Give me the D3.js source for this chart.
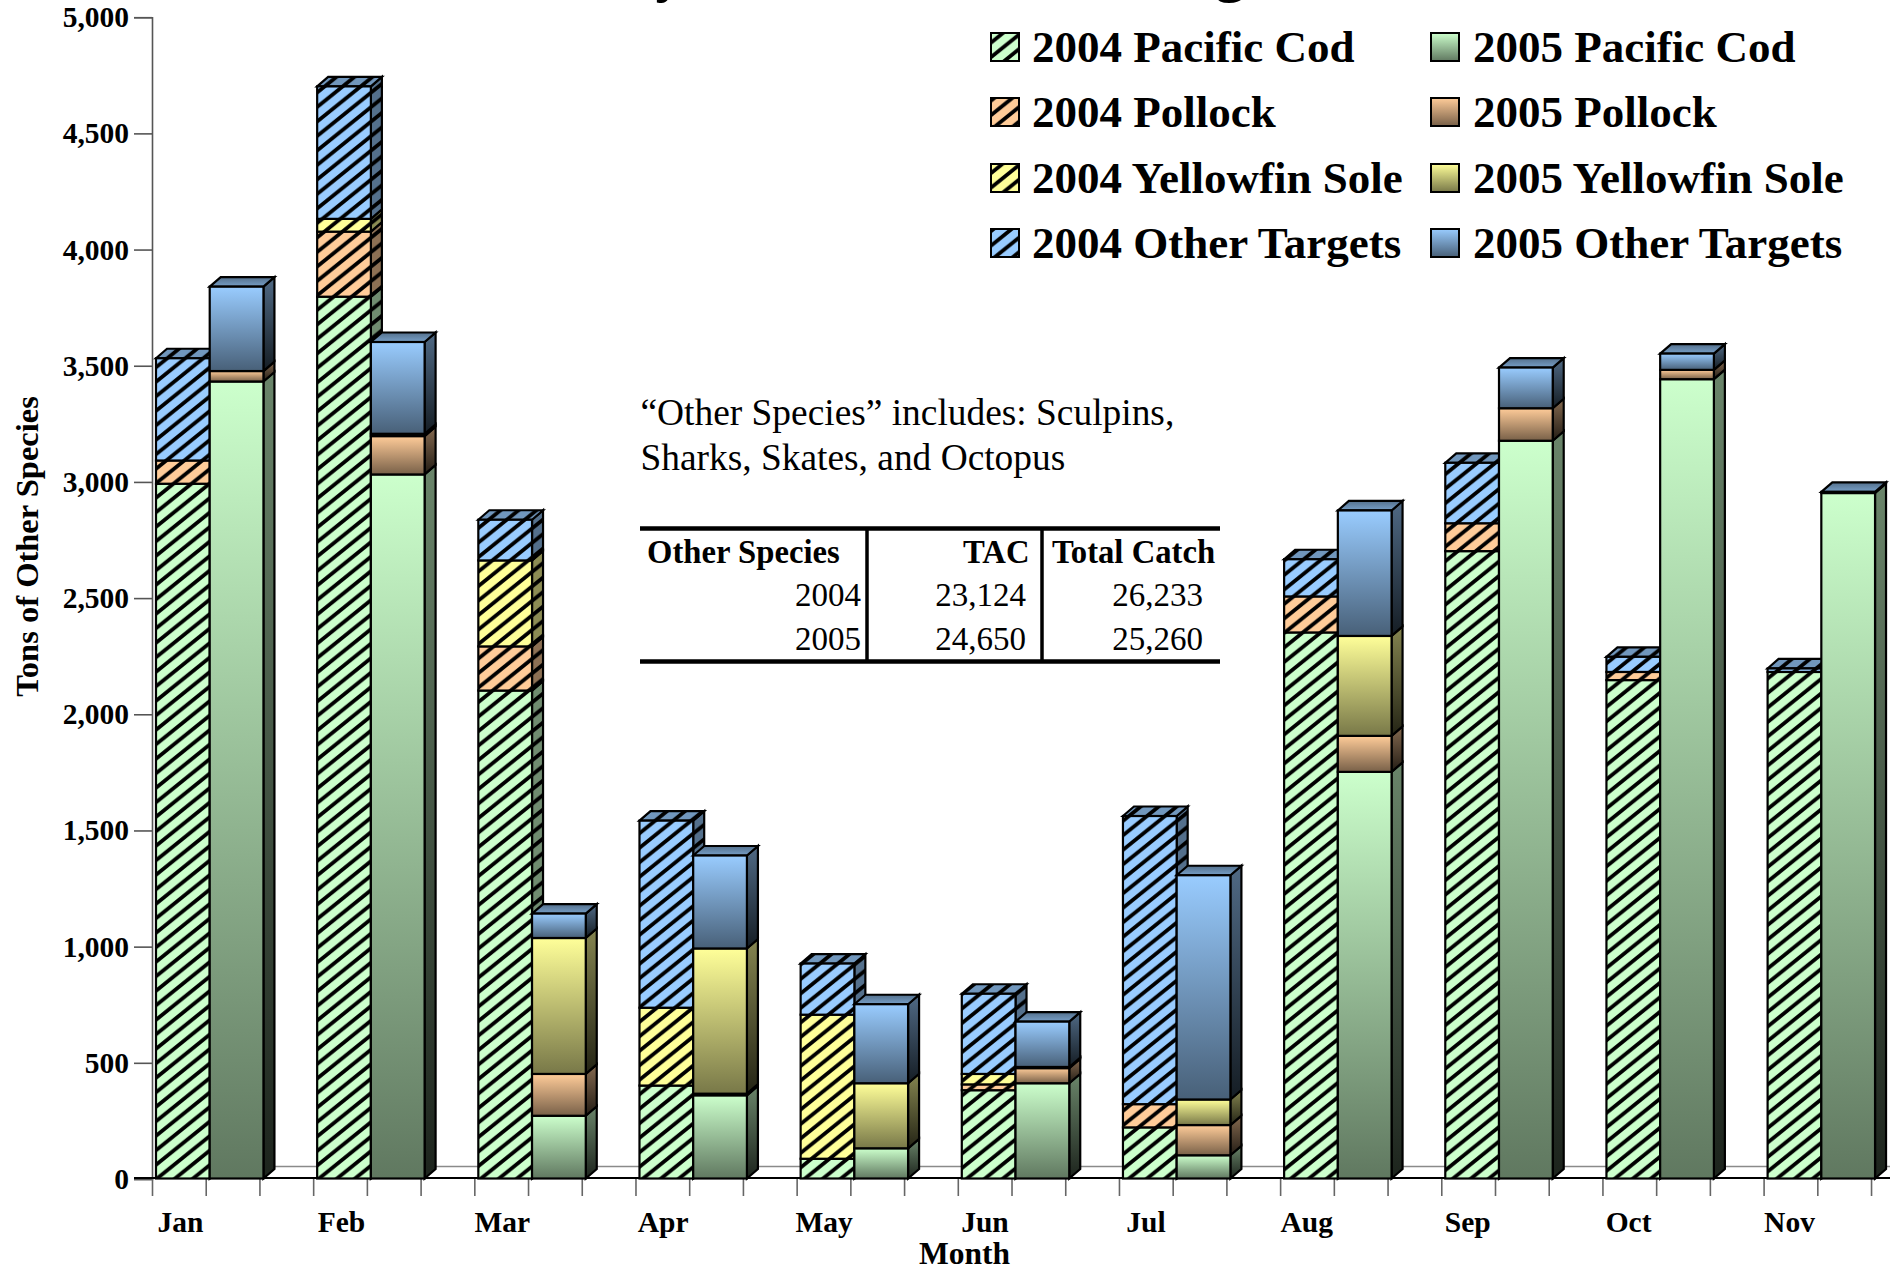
<!DOCTYPE html>
<html><head><meta charset="utf-8">
<script src="https://d3js.org/d3.v7.min.js"></script>
<style>html,body{margin:0;padding:0;background:#fff;overflow:hidden}svg{display:block}
text{font-family:"Liberation Serif","Times New Roman",serif;fill:#000}</style>
</head><body><svg id="c" width="1890" height="1273"></svg>
<script>
const months=["Jan","Feb","Mar","Apr","May","Jun","Jul","Aug","Sep","Oct","Nov"];
const species=["Pacific Cod","Pollock","Yellowfin Sole","Other Targets"];
const cod2004=[2990,3795,2100,400,85,380,220,2350,2700,2145,2180];
const pollock2004=[100,280,190,0,0,25,100,155,120,35,0];
const yellowfin2004=[0,55,370,335,620,45,0,0,0,0,0];
const other2004=[440,570,175,805,220,345,1240,160,260,65,15];
const cod2005=[3430,3030,270,358,130,410,100,1750,3175,3440,2950];
const pollock2005=[45,165,180,7,0,65,130,155,140,40,0];
const yellowfin2005=[0,10,585,625,280,5,110,430,0,0,0];
const other2005=[363,395,105,400,340,195,965,540,175,70,5];
const yTicks=[0,500,1000,1500,2000,2500,3000,3500,4000,4500,5000];
const baseColors=["#CCFFCC","#FFCC99","#FFFF99","#99CCFF"];
const noteLines=["\u201COther Species\u201D includes: Sculpins,","Sharks, Skates, and Octopus"];
const tableHead=["Other Species","TAC","Total Catch"];
const tableYears=["2004","2005"];
const tableTAC=["23,124","24,650"];
const tableCatch=["26,233","25,260"];

const svg=d3.select("#c"), defs=svg.append("defs");
const y=d3.scaleLinear().domain([0,5000]).range([1179,17.2]);
const x=d3.scaleLinear().domain([0,33]).range([152,152+33*53.72]);
const labelX=d3.scaleLinear().domain([0,10]).range([180.5,1789.5]);
const DX=11, DY=9.5, INSET=4, LIFT=0.5;
const shade=(c,k)=>{const r=d3.rgb(c);return d3.rgb(r.r*k,r.g*k,r.b*k).formatHex();};

function hatch(id,color){
  const p=defs.append("pattern").attr("id",id).attr("patternUnits","userSpaceOnUse")
    .attr("width",18).attr("height",14.5);
  p.append("rect").attr("width",18).attr("height",14.5).attr("fill",color);
  p.append("path").attr("d","M-9,7.25L9,-7.25M-9,21.75L27,-7.25M9,21.75L27,7.25")
    .attr("stroke","#000").attr("stroke-width",3.8);
}
function grad(id,c0,c1){
  const g=defs.append("linearGradient").attr("id",id).attr("x1",0).attr("y1",0).attr("x2",0).attr("y2",1);
  g.append("stop").attr("offset","0").attr("stop-color",c0);
  g.append("stop").attr("offset","1").attr("stop-color",c1);
}
baseColors.forEach((c,i)=>{
  hatch("hf"+i,c); hatch("hs"+i,shade(c,.55)); hatch("ht"+i,shade(c,.74));
  grad("gf"+i,c,shade(c,.47)); grad("gs"+i,shade(c,.52),shade(c,.14)); grad("gt"+i,shade(c,.55),shade(c,.78));
});

// floor line
svg.append("line").attr("x1",x(0)+DX).attr("x2",1890).attr("y1",y(0)-DY-3).attr("y2",y(0)-DY-3)
  .attr("stroke","#8a8a8a").attr("stroke-width",1.6);

// axes
const gy=svg.append("g").attr("transform",`translate(${x(0)},0)`)
  .call(d3.axisLeft(y).tickValues(yTicks).tickFormat(d3.format(",")).tickSize(18).tickPadding(5));
gy.selectAll("path,line").attr("stroke","#555").attr("stroke-width",1.6);
gy.selectAll("text").attr("font-size",29.5).attr("font-weight","bold").attr("font-family","Liberation Serif").attr("fill","#000");
const gx=svg.append("g").attr("transform",`translate(0,${y(0)-1})`)
  .call(d3.axisBottom(x).tickValues(d3.range(0,34)).tickFormat("").tickSize(18).tickSizeOuter(0));
gx.selectAll("line").attr("stroke","#666").attr("stroke-width",1.6);
gx.select("path").remove();
svg.append("line").attr("x1",134).attr("x2",1890).attr("y1",y(0)-1).attr("y2",y(0)-1).attr("stroke","#000").attr("stroke-width",2);

// bars
const table=months.map((m,i)=>({
  a0:cod2004[i],a1:pollock2004[i],a2:yellowfin2004[i],a3:other2004[i],
  b0:cod2005[i],b1:pollock2005[i],b2:yellowfin2005[i],b3:other2005[i]}));
const stackA=d3.stack().keys(["a0","a1","a2","a3"])(table);
const stackB=d3.stack().keys(["b0","b1","b2","b3"])(table);
const bars=svg.append("g").attr("stroke","#000").attr("stroke-width",2.2).attr("stroke-linejoin","miter");
months.forEach((m,mi)=>{
  [[stackA,"h"],[stackB,"g"]].forEach(([stack,kind],yi)=>{
    const x0=x(mi*3+yi)+INSET, x1=x0+(x(1)-x(0));
    const segs=stack.map((s,si)=>({si,lo:s[mi][0],hi:s[mi][1]})).filter(d=>d.hi>d.lo);
    const top=segs[segs.length-1];
    const g=bars.append("g");
    segs.forEach(d=>{
      const yl=y(d.lo)-LIFT, yh=y(d.hi)-LIFT;
      g.append("polygon").attr("points",[[x1,yl],[x1+DX,yl-DY],[x1+DX,yh-DY],[x1,yh]].join(" "))
        .attr("fill",`url(#${kind}s${d.si})`);
    });
    const ty=y(top.hi)-LIFT;
    g.append("polygon").attr("points",[[x0,ty],[x0+DX,ty-DY],[x1+DX,ty-DY],[x1,ty]].join(" "))
      .attr("fill",`url(#${kind==="h"?"ht":"gt"}${top.si})`);
    segs.forEach(d=>{
      g.append("rect").attr("x",x0).attr("y",y(d.hi)-LIFT).attr("width",x1-x0).attr("height",y(d.lo)-y(d.hi))
        .attr("fill",`url(#${kind==="h"?"hf":"gf"}${d.si})`);
    });
  });
});

// month labels and axis titles
svg.append("g").selectAll("text").data(months).join("text")
  .attr("x",(d,i)=>labelX(i)).attr("y",1232).attr("text-anchor","middle")
  .attr("font-size",29.5).attr("font-weight","bold").text(d=>d);
svg.append("text").attr("x",964.5).attr("y",1264).attr("text-anchor","middle")
  .attr("font-size",31.5).attr("font-weight","bold").text("Month");
svg.append("text").attr("transform","translate(38,546.5) rotate(-90)").attr("text-anchor","middle")
  .attr("font-size",32.5).attr("font-weight","bold").text("Tons of Other Species");

// title fragments cut by the top edge
svg.append("text").attr("x",670).attr("y",-9).attr("text-anchor","middle").attr("font-size",58).attr("font-weight","bold").text("y");
svg.append("text").attr("x",1230).attr("y",-9).attr("text-anchor","middle").attr("font-size",58).attr("font-weight","bold").text("g");

// legend
const legend=svg.append("g");
const rows=[62,127,193,258];
[["2004","h",991,1032],["2005","g",1431,1473]].forEach(([yr,kind,sx,tx])=>{
  species.forEach((s,i)=>{
    legend.append("rect").attr("x",sx).attr("y",rows[i]-29).attr("width",28).attr("height",28)
      .attr("fill",`url(#${kind==="h"?"hf":"gf"}${i})`).attr("stroke","#000").attr("stroke-width",2);
    legend.append("text").attr("x",tx).attr("y",rows[i]).attr("font-size",45).attr("font-weight","bold").text(yr+" "+s);
  });
});

// note and table
svg.append("g").selectAll("text").data(noteLines).join("text")
  .attr("x",640.5).attr("y",(d,i)=>425+45*i).attr("font-size",37.4).text(d=>d);
const tbl=svg.append("g");
[528.5,661.5].forEach(v=>tbl.append("line").attr("x1",640).attr("x2",1220).attr("y1",v).attr("y2",v).attr("stroke","#000").attr("stroke-width",4.5));
[867,1042].forEach(v=>tbl.append("line").attr("x1",v).attr("x2",v).attr("y1",528).attr("y2",661.5).attr("stroke","#000").attr("stroke-width",3.5));
tbl.append("text").attr("x",647).attr("y",563).attr("font-size",32.7).attr("font-weight","bold").text(tableHead[0]);
tbl.append("text").attr("x",1029.5).attr("y",563).attr("text-anchor","end").attr("font-size",32.7).attr("font-weight","bold").text(tableHead[1]);
tbl.append("text").attr("x",1052).attr("y",563).attr("font-size",32.7).attr("font-weight","bold").text(tableHead[2]);
tableYears.forEach((t,i)=>{
  const by=606+43.5*i;
  tbl.append("text").attr("x",861).attr("y",by).attr("text-anchor","end").attr("font-size",33).text(t);
  tbl.append("text").attr("x",1026).attr("y",by).attr("text-anchor","end").attr("font-size",33).text(tableTAC[i]);
  tbl.append("text").attr("x",1203).attr("y",by).attr("text-anchor","end").attr("font-size",33).text(tableCatch[i]);
});
</script></body></html>
